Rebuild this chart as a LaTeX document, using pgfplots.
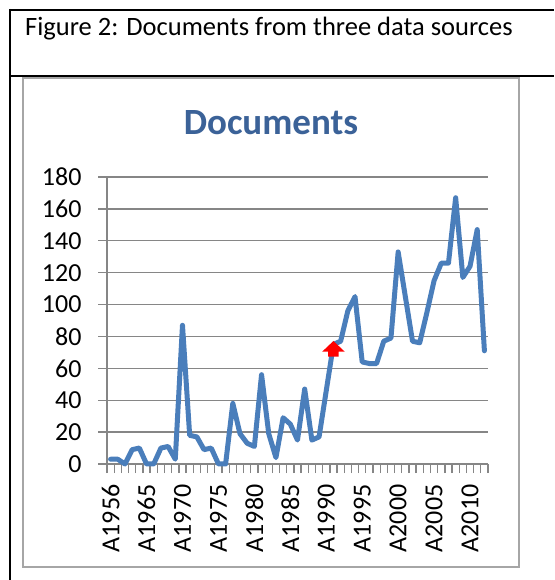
\documentclass[border=0pt]{standalone}
\usepackage{pgfplots}
\pgfplotsset{compat=1.18}
\usepackage{fontspec}
\setmainfont{Carlito}
\definecolor{series}{RGB}{74,126,187}
\definecolor{gridc}{RGB}{134,134,134}
\definecolor{framec}{RGB}{166,166,166}
\definecolor{titlec}{RGB}{59,98,152}
\pgfdeclareplotmark{redup}{%
  \pgfpathmoveto{\pgfqpoint{-5.3pt}{0pt}}%
  \pgfpathlineto{\pgfqpoint{-5.3pt}{5pt}}%
  \pgfpathlineto{\pgfqpoint{-11.3pt}{5pt}}%
  \pgfpathlineto{\pgfqpoint{0pt}{15.7pt}}%
  \pgfpathlineto{\pgfqpoint{11.3pt}{5pt}}%
  \pgfpathlineto{\pgfqpoint{5.3pt}{5pt}}%
  \pgfpathlineto{\pgfqpoint{5.3pt}{0pt}}%
  \pgfpathclose
  \pgfusepathqfill}
\pgfplotstableread{
x y
0 3
1 3
2 0
3 9
4 10
5 0
6 0
7 10
8 11
9 3
10 87
11 18
12 17
13 9
14 10
15 0
16 0
17 38
18 19
19 13
20 11
21 56
22 19
23 4
24 29
25 25
26 15
27 47
28 15
29 17
30 46
31 75
32 77
33 96
34 105
35 64
36 63
37 63
38 77
39 79
40 133
41 105
42 77
43 76
44 95
45 115
46 126
47 126
48 167
49 117
50 124
51 147
52 71
}\docs
\usepackage{pgfplotstable}
\begin{document}
\begin{tikzpicture}[x=1pt,y=1pt]
\path[use as bounding box] (0,0) rectangle (554,580);
\fill[white] (0,0) rectangle (554,580);
% table lines
\draw[line width=2pt] (9,570) -- (554,570);
\draw[line width=2pt] (10,571) -- (10,0);
\draw[line width=2pt] (9,504) -- (554,504);
\node[anchor=base west, inner sep=0pt, font=\fontsize{26.5}{30}\selectfont] at (25,544) {Figure 2: Documents from three data sources};
% chart frame
\draw[framec, line width=1.5pt] (23,13) rectangle (519,502);
\node[anchor=base, inner sep=0pt, text=titlec, font=\fontsize{37}{40}\selectfont\bfseries] at (271,445) {Documents};
\begin{axis}[
  at={(107pt,116pt)}, anchor=south west,
  scale only axis, width=381pt, height=287pt,
  xmin=-0.5, xmax=52.5, ymin=0, ymax=180,
  clip=false,
  axis x line*=bottom, axis y line*=left,
  axis line style={draw=gridc, line width=1.3pt},
  ytick={0,20,...,180},
  xtick={0,5,...,50},
  xticklabels={A1956,A1965,A1970,A1975,A1980,A1985,A1990,A1995,A2000,A2005,A2010},
  minor xtick={-0.5,0.5,...,52.5},
  tick align=outside,
  major tick length=9pt, minor tick length=9pt,
  every major x tick/.append style={draw=none},
  tick style={draw=gridc, line width=1.3pt},
  ymajorgrids,
  grid style={draw=gridc, line width=1.3pt},
  tick label style={font=\fontsize{26}{30}\selectfont},
  /pgf/number format/assume math mode=true,
  xticklabel style={rotate=90, anchor=east},
  yticklabel style={anchor=east},
  xticklabel shift=8pt,
  yticklabel shift=13pt,
]
\addplot[series, line width=5pt, line join=round, line cap=round] table[x=x,y=y] {\docs};
\addplot[only marks, mark=redup, mark options={fill=red, draw=none}] coordinates {(31,67.3)};
\end{axis}
\end{tikzpicture}
\end{document}
